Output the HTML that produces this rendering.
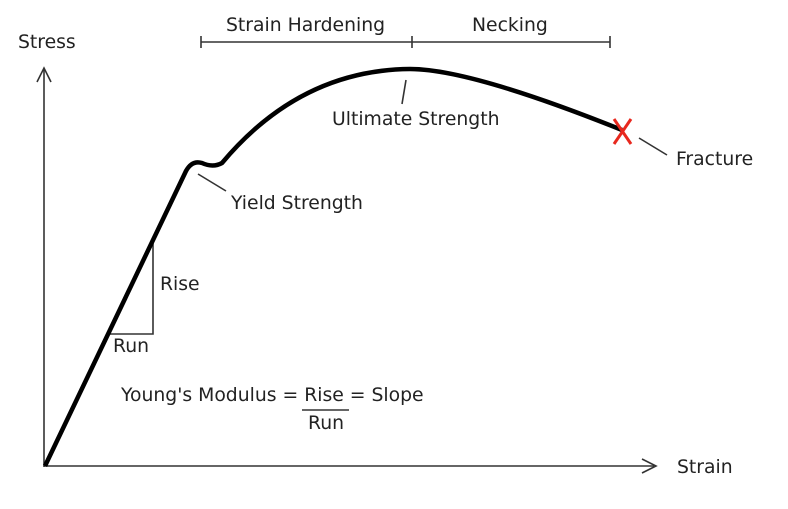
<!DOCTYPE html>
<html><head><style>
html,body{margin:0;padding:0;background:#fff}
svg text{font-family:"DejaVu Sans",sans-serif;font-size:18.8px;fill:#222}
</style></head><body>
<svg width="788" height="504" viewBox="0 0 788 504" xmlns="http://www.w3.org/2000/svg">
<g stroke="#333" stroke-width="1.6" fill="none">
<line x1="44" y1="467" x2="44" y2="70"/>
<polyline points="37,82 44,68 51,82"/>
<line x1="44" y1="466" x2="654" y2="466"/>
<polyline points="642,459 656,466 642,473"/>
<line x1="201" y1="42" x2="610" y2="42"/>
<line x1="201" y1="36" x2="201" y2="48"/>
<line x1="412" y1="36" x2="412" y2="48"/>
<line x1="610" y1="36" x2="610" y2="48"/>
<polyline points="110,334 153,334 153,243"/>
<line x1="302" y1="410" x2="349" y2="410"/>
<line x1="406" y1="80" x2="402" y2="104"/>
<line x1="198" y1="174" x2="226" y2="191"/>
<line x1="639" y1="138" x2="667" y2="155"/>
</g>
<path d="M45,466 L186,171 Q192,160 202,163 Q213,168 222,163 Q300,70 410,69 Q470,69 622,130" stroke="#000" stroke-width="4.5" fill="none" stroke-linejoin="round"/>
<g stroke="#e8281e" stroke-width="3">
<line x1="614" y1="119" x2="631" y2="144"/>
<line x1="631" y1="119" x2="614" y2="144"/>
</g>
<text x="18" y="48">Stress</text>
<text x="677" y="473">Strain</text>
<text x="226" y="31">Strain Hardening</text>
<text x="472" y="31">Necking</text>
<text x="332" y="125">Ultimate Strength</text>
<text x="231" y="209">Yield Strength</text>
<text x="676" y="165">Fracture</text>
<text x="160" y="290">Rise</text>
<text x="113" y="352">Run</text>
<text x="121" y="401">Young's Modulus = Rise = Slope</text>
<text x="308" y="429">Run</text>
</svg>
</body></html>
